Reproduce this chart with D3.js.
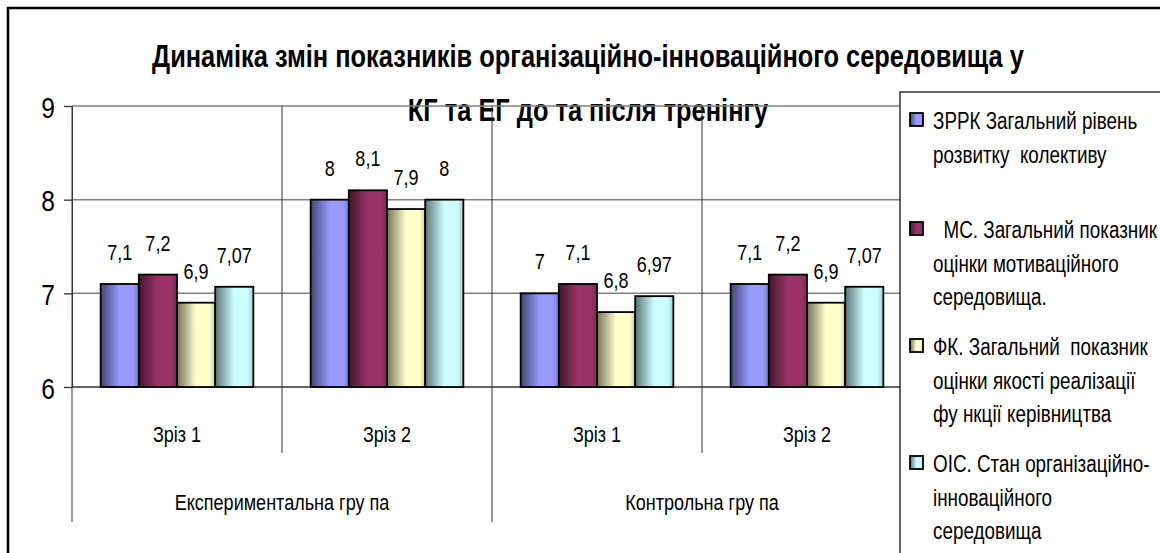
<!DOCTYPE html>
<html>
<head>
<meta charset="utf-8">
<script src="https://cdn.jsdelivr.net/npm/d3@7"></script>
<style>
  body { margin: 0; background: #fff; }
  text { font-family: 'Liberation Sans', Arial, sans-serif; fill: #000; }
</style>
</head>
<body>
<svg id="chart" width="1160" height="553"></svg>
<script>
// chart data
const categories = ['Зріз 1', 'Зріз 2', 'Зріз 1', 'Зріз 2'];
const groups = ['Експериментальна гру па', 'Контрольна гру па'];
const yTicks = [6, 7, 8, 9];

const zrrk = [7.1, 8, 7, 7.1];
const ms = [7.2, 8.1, 7.1, 7.2];
const fk = [6.9, 7.9, 6.8, 6.9];
const ois = [7.07, 8, 6.97, 7.07];

const seriesNames = [
  ['ЗРРК Загальний рівень', 'розвитку  колективу'],
  ['  МС. Загальний показник', 'оцінки мотиваційного', 'середовища.'],
  ['ФК. Загальний  показник', 'оцінки якості реалізації', 'фу нкції керівництва'],
  ['ОІС. Стан організаційно-', 'інноваційного', 'середовища']
];
const seriesColors = ['#9999FF', '#993366', '#FFFFCC', '#CCFFFF'];

const titleLines = [
  'Динаміка змін показників організаційно-інноваційного середовища у',
  'КГ та ЕГ до та після тренінгу'
];

const series = [zrrk, ms, fk, ois];

// no Arial Narrow here, so squeeze Liberation Sans horizontally
const NARROW = 0.82;
const at = (px, py) => `translate(${px},${py}) scale(${NARROW},1)`;

const svg = d3.select('#chart');

// gradients for the bars (dark left edge, like excel's shaded columns)
const defs = svg.append('defs');
seriesColors.forEach((c, i) => {
  const g = defs.append('linearGradient')
    .attr('id', 'grad' + i)
    .attr('x1', 0).attr('x2', 1).attr('y1', 0).attr('y2', 0);
  const dark = d3.interpolateRgb('#000', c)(0.45);
  g.append('stop').attr('offset', '0%').attr('stop-color', dark);
  g.append('stop').attr('offset', '50%').attr('stop-color', c);
  g.append('stop').attr('offset', '85%').attr('stop-color', c);
  g.append('stop').attr('offset', '100%').attr('stop-color', d3.interpolateRgb('#000', c)(0.8));
});

// outer border
svg.append('rect')
  .attr('x', 8).attr('y', 8)
  .attr('width', 1200).attr('height', 600)
  .attr('fill', 'none')
  .attr('stroke', '#000')
  .attr('stroke-width', 2.5);

// scales
const plotLeft = 72, plotRight = 912;
const x = d3.scaleBand().domain(d3.range(categories.length)).range([plotLeft, plotRight]);
const xs = d3.scaleBand().domain(d3.range(series.length))
  .range([0, x.bandwidth()])
  .paddingInner(0)
  .paddingOuter(0.75);
const y = d3.scaleLinear().domain([6, 9]).range([387, 106]);

// title (sits behind the grid)
svg.append('g')
  .selectAll('text')
  .data(titleLines)
  .join('text')
  .attr('transform', (d, i) => at(588, 67 + i * 54))
  .attr('text-anchor', 'middle')
  .attr('font-weight', 'bold')
  .attr('font-size', 31)
  .text(d => d);

// horizontal gridlines
svg.append('g')
  .selectAll('line')
  .data(yTicks.filter(d => d !== 6))
  .join('line')
  .attr('x1', plotLeft).attr('x2', plotRight)
  .attr('y1', d => y(d)).attr('y2', d => y(d))
  .attr('stroke', '#808080')
  .attr('stroke-width', 1.5);

// category boundaries (also split the two label rows)
const bounds = d3.range(categories.length + 1);
svg.append('g')
  .selectAll('line')
  .data(bounds)
  .join('line')
  .attr('x1', d => plotLeft + d * x.step())
  .attr('x2', d => plotLeft + d * x.step())
  .attr('y1', y(9))
  .attr('y2', d => (d % 2 === 0 ? 522 : 453))
  .attr('stroke', '#333')
  .attr('stroke-width', 1);

// y axis
const yAxis = svg.append('g')
  .attr('transform', `translate(${plotLeft},0)`)
  .call(d3.axisLeft(y).tickValues(yTicks).tickSize(8).tickSizeOuter(0).tickFormat(d3.format('d')));
yAxis.attr('font-family', null).attr('font-size', null);
yAxis.select('.domain').attr('stroke', '#333');
yAxis.selectAll('.tick line').attr('stroke', '#333').attr('stroke-width', 1.3);
yAxis.selectAll('.tick text')
  .attr('x', null).attr('dy', null)
  .attr('transform', at(-17, 11))
  .attr('text-anchor', 'end')
  .attr('font-size', 30)
  .attr('fill', '#000');

// baseline
svg.append('line')
  .attr('x1', plotLeft).attr('x2', plotRight)
  .attr('y1', y(6)).attr('y2', y(6))
  .attr('stroke', '#333')
  .attr('stroke-width', 1.5);

// bars
const fmt = v => String(v).replace('.', ',');
const catG = svg.append('g')
  .selectAll('g')
  .data(categories)
  .join('g')
  .attr('transform', (d, i) => `translate(${x(i)},0)`);

catG.selectAll('rect')
  .data((d, i) => series.map((s, k) => ({ k, v: s[i] })))
  .join('rect')
  .attr('x', d => xs(d.k))
  .attr('y', d => y(d.v))
  .attr('width', xs.bandwidth())
  .attr('height', d => y(6) - y(d.v))
  .attr('fill', d => `url(#grad${d.k})`)
  .attr('stroke', '#000')
  .attr('stroke-width', 1.8);

catG.selectAll('text')
  .data((d, i) => series.map((s, k) => ({ k, v: s[i] })))
  .join('text')
  .attr('transform', d => at(xs(d.k) + xs.bandwidth() / 2, y(d.v) - 24))
  .attr('text-anchor', 'middle')
  .attr('font-size', 22)
  .text(d => fmt(d.v));

// category labels
svg.append('g')
  .selectAll('text')
  .data(categories)
  .join('text')
  .attr('transform', (d, i) => at(x(i) + x.bandwidth() / 2, 442))
  .attr('text-anchor', 'middle')
  .attr('font-size', 22)
  .text(d => d);

// group labels
svg.append('g')
  .selectAll('text')
  .data(groups)
  .join('text')
  .attr('transform', (d, i) => at(plotLeft + (i * 2 + 1) * x.step(), 510))
  .attr('text-anchor', 'middle')
  .attr('font-size', 22)
  .text(d => d);

// legend box (overlaps the right part of the plot)
const legend = svg.append('g');
legend.append('rect')
  .attr('x', 900).attr('y', 92)
  .attr('width', 400).attr('height', 500)
  .attr('fill', '#fff')
  .attr('stroke', '#000')
  .attr('stroke-width', 1.2);

const entryTop = [129, 238, 355, 472];
const lineStep = 33.5;
const entries = legend.selectAll('g.entry')
  .data(seriesNames)
  .join('g')
  .attr('class', 'entry');

entries.append('rect')
  .attr('x', 910)
  .attr('y', (d, i) => entryTop[i] - 16)
  .attr('width', 13).attr('height', 13)
  .attr('fill', (d, i) => `url(#grad${i})`)
  .attr('stroke', '#000')
  .attr('stroke-width', 1.8);

entries.selectAll('text')
  .data((d, i) => d.map((t, j) => ({ t, yy: entryTop[i] + j * lineStep })))
  .join('text')
  .attr('transform', d => at(933, d.yy))
  .attr('font-size', 23)
  .style('white-space', 'pre')
  .text(d => d.t);
</script>
</body>
</html>
